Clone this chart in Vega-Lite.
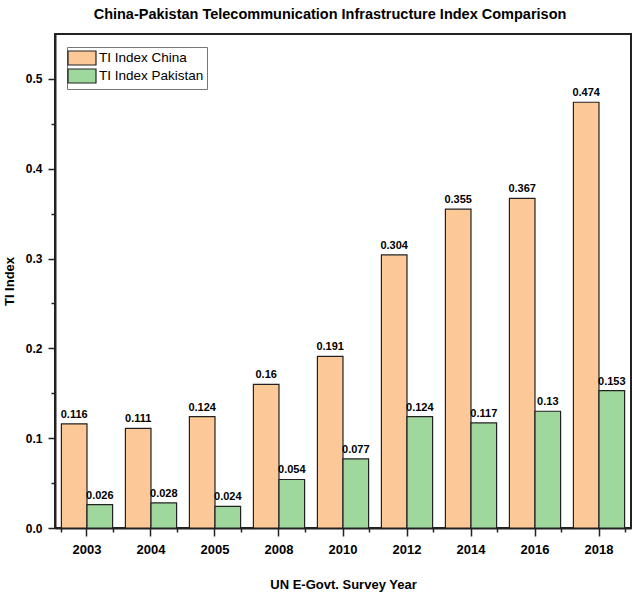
{
  "$schema": "https://vega.github.io/schema/vega-lite/v6.json",
  "autosize": "none",
  "width": 576,
  "height": 494,
  "padding": {"left": 55, "top": 34, "right": 1, "bottom": 69},
  "title": {
    "text": "China-Pakistan Telecommunication Infrastructure Index Comparison",
    "font": "Liberation Sans",
    "fontSize": 14.5,
    "fontWeight": "bold",
    "color": "#000",
    "dx": -13,
    "offset": 12
  },
  "config": {
    "view": {"stroke": "#222", "strokeWidth": 2},
    "font": "Liberation Sans",
    "axis": {
      "domainColor": "#222",
      "domainWidth": 2,
      "tickColor": "#222",
      "tickWidth": 1.5,
      "labelFont": "Liberation Sans",
      "labelFontWeight": "bold",
      "labelColor": "#000",
      "titleFont": "Liberation Sans",
      "titleFontWeight": "bold",
      "titleColor": "#000",
      "grid": false
    }
  },
  "data": {
    "values": [
      {"year": "2003", "series": "TI Index China", "value": 0.116},
      {"year": "2003", "series": "TI Index Pakistan", "value": 0.026},
      {"year": "2004", "series": "TI Index China", "value": 0.111},
      {"year": "2004", "series": "TI Index Pakistan", "value": 0.028},
      {"year": "2005", "series": "TI Index China", "value": 0.124},
      {"year": "2005", "series": "TI Index Pakistan", "value": 0.024},
      {"year": "2008", "series": "TI Index China", "value": 0.16},
      {"year": "2008", "series": "TI Index Pakistan", "value": 0.054},
      {"year": "2010", "series": "TI Index China", "value": 0.191},
      {"year": "2010", "series": "TI Index Pakistan", "value": 0.077},
      {"year": "2012", "series": "TI Index China", "value": 0.304},
      {"year": "2012", "series": "TI Index Pakistan", "value": 0.124},
      {"year": "2014", "series": "TI Index China", "value": 0.355},
      {"year": "2014", "series": "TI Index Pakistan", "value": 0.117},
      {"year": "2016", "series": "TI Index China", "value": 0.367},
      {"year": "2016", "series": "TI Index Pakistan", "value": 0.13},
      {"year": "2018", "series": "TI Index China", "value": 0.474},
      {"year": "2018", "series": "TI Index Pakistan", "value": 0.153}
    ]
  },
  "encoding": {
    "x": {
      "field": "year",
      "type": "ordinal",
      "scale": {"paddingInner": 0.2, "paddingOuter": 0.1}
    },
    "xOffset": {"field": "series", "type": "nominal"},
    "y": {
      "field": "value",
      "type": "quantitative",
      "scale": {"domain": [0, 0.55], "nice": false, "zero": true}
    }
  },
  "layer": [
    {
      "mark": {"type": "bar", "stroke": "#222", "strokeWidth": 1.2},
      "encoding": {
        "x": {
          "field": "year",
          "type": "ordinal",
          "title": "UN E-Govt. Survey Year",
          "axis": {
            "labelAngle": 0,
            "labelFontSize": 13,
            "tickSize": 8,
            "labelPadding": 7,
            "titleFontSize": 13,
            "titlePadding": 22
          }
        },
        "y": {
          "field": "value",
          "type": "quantitative",
          "title": "TI Index",
          "axis": {
            "values": [0, 0.1, 0.2, 0.3, 0.4, 0.5],
            "format": ".1f",
            "labelFontSize": 12,
            "tickSize": 7,
            "labelPadding": 6,
            "titleFontSize": 13,
            "titlePadding": 9
          }
        },
        "color": {
          "field": "series",
          "type": "nominal",
          "title": null,
          "scale": {"range": ["#FDC897", "#9ED89C"]},
          "legend": {
            "orient": "none",
            "legendX": 12,
            "legendY": 13,
            "symbolType": "M-2,-1H2V1H-2Z",
            "symbolSize": 196,
            "symbolOffset": 4,
            "symbolStrokeColor": "#222",
            "symbolStrokeWidth": 1.2,
            "symbolOpacity": 1,
            "labelFontSize": 13.5,
            "labelFont": "Liberation Sans",
            "labelColor": "#000",
            "labelOffset": 9,
            "rowPadding": -3,
            "strokeColor": "#777",
            "padding": 3
          }
        }
      }
    },
    {
      "mark": {
        "type": "text",
        "baseline": "bottom",
        "dy": -4,
        "fontSize": 11,
        "fontWeight": "bold",
        "font": "Liberation Sans",
        "color": "#000"
      },
      "encoding": {
        "x": {
          "field": "year",
          "type": "ordinal",
          "axis": {
            "orient": "bottom",
            "tickBand": "extent",
            "labels": false,
            "domain": false,
            "tickSize": 4,
            "title": null
          }
        },
        "y": {
          "field": "value",
          "type": "quantitative",
          "axis": {
            "orient": "left",
            "values": [0.05, 0.15, 0.25, 0.35, 0.45],
            "labels": false,
            "domain": false,
            "tickSize": 4,
            "title": null
          }
        },
        "text": {"field": "value", "type": "quantitative", "format": ".3~f"}
      }
    }
  ],
  "resolve": {"axis": {"x": "independent", "y": "independent"}}
}
